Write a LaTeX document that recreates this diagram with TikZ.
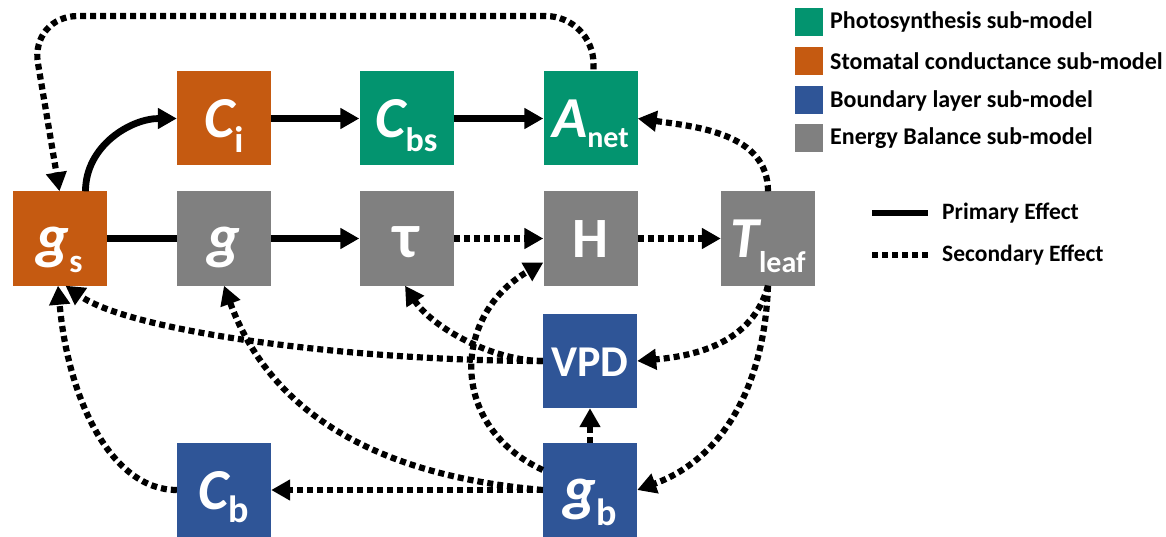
\documentclass[tikz,border=0pt]{standalone}
\usepackage{fontspec}
\setmainfont{Carlito}
\usetikzlibrary{arrows.meta}
\definecolor{psgreen}{RGB}{3,148,111}
\definecolor{scorange}{RGB}{197,90,17}
\definecolor{blblue}{RGB}{47,85,151}
\definecolor{ebgray}{RGB}{128,128,128}
\newcommand\mainv[2]{{\fontsize{#1pt}{#1pt}\selectfont\itshape #2}}
\newcommand\subv[3]{\raisebox{-#1pt}{\fontsize{#2pt}{#2pt}\selectfont #3}}
\begin{document}
\begin{tikzpicture}[x=1pt,y=1pt,
 box/.style={minimum width=94pt,minimum height=94pt,inner sep=0pt,text=white,font=\bfseries,text height=39pt,text depth=0pt},
 prim/.style={line width=6.8pt,-{Triangle[length=19pt,width=20pt]}},
 primline/.style={line width=6.8pt},
 sec/.style={line width=6.2pt,dash pattern=on 6pt off 4pt,-{Triangle[length=19pt,width=20pt]}},
 secline/.style={line width=6.2pt,dash pattern=on 6pt off 4pt},
 legsq/.style={minimum width=28pt,minimum height=28pt,inner sep=0pt},
 legtxt/.style={anchor=west,inner sep=0pt,font=\fontsize{24pt}{24pt}\selectfont\bfseries},
 efftxt/.style={anchor=west,inner sep=0pt,font=\fontsize{23.5pt}{23.5pt}\selectfont\bfseries},
]
\useasboundingbox (0,0) rectangle (1166,-537);

% boxes
\node[box,fill=scorange] (gs) at (59.5,-238.5) {\mainv{62}{g}\subv{14}{33}{s}};
\node[box,fill=scorange] (Ci) at (224,-118.5) {\mainv{58}{C}\subv{15}{37}{i}};
\node[box,fill=psgreen] (Cbs) at (406.5,-118.5) {\mainv{58}{C}\subv{14}{34}{bs}};
\node[box,fill=psgreen] (Anet) at (590.5,-118.5) {\mainv{58}{A}\subv{10}{30}{net}};
\node[box,fill=ebgray] (g) at (224,-238.5) {\mainv{62}{g}};
\node[box,fill=ebgray] (tau) at (406.5,-238.5) {\fontsize{64pt}{64pt}\selectfont τ};
\node[box,fill=ebgray] (H) at (590.5,-238.5) {\fontsize{57pt}{57pt}\selectfont H};
\node[box,fill=ebgray] (Tleaf) at (768,-238.5) {\mainv{58}{T}\subv{14}{30}{leaf}};
\node[box,fill=blblue,text height=30pt] (VPD) at (590,-361) {\fontsize{44pt}{44pt}\selectfont VPD};
\node[box,fill=blblue] (Cb) at (224,-490) {\mainv{58}{C}\subv{13}{38}{b}};
\node[box,fill=blblue] (gb) at (590,-490) {\mainv{62}{g}\subv{16}{38}{b}};

% primary effects
\draw[prim] ([xshift=26pt]gs.north) to[out=90,in=180] (Ci.west);
\draw[prim] (Ci) -- (Cbs);
\draw[prim] (Cbs) -- (Anet);
\draw[primline] (gs) -- (g);
\draw[prim] (g) -- (tau);

% secondary effects
\draw[sec,rounded corners=48pt] ([xshift=3pt,yshift=2pt]Anet.north) |- (30,-16) -- (gs.north) ;
\draw[sec] (tau) -- (H);
\draw[sec] (H) -- (Tleaf);
\draw[sec] (Tleaf.north) to[out=90,in=-8] (Anet.east);
\draw[sec] (Tleaf.south) to[out=-105,in=5] (VPD.east);
\draw[sec] (Tleaf.south) to[out=-92,in=20] (gb.east);
\draw[sec] (VPD.west) to[out=180,in=-35,out distance=193pt,in distance=80pt] ([xshift=6pt]gs.south);
\draw[sec] (VPD.west) to[out=180,in=-57,out distance=50pt,in distance=50pt] ([xshift=-1.5pt]tau.south);
\draw[sec] (Cb.west) to[out=180,in=-85,out distance=65pt,in distance=115pt] ([xshift=-1.5pt]gs.south);
\draw[sec] (gb.west) -- (Cb.east);
\draw[sec] (gb.west) to[out=175,in=-70,out distance=200pt,in distance=110pt] (g.south);
\draw[sec] ([yshift=20pt]gb.west) to[out=155,in=210,distance=105pt] ([yshift=-24pt]H.west);
\draw[sec] (gb.north) -- (VPD.south);

% legend
\node[legsq,fill=psgreen] (l1) at (809,-22) {};
\node[legsq,fill=scorange] (l2) at (809,-61.5) {};
\node[legsq,fill=blblue] (l3) at (809,-100.5) {};
\node[legsq,fill=ebgray] (l4) at (809,-138) {};
\node[legtxt] (t1) at (830,-22) {Photosynthesis sub-model};
\node[legtxt] (t2) at (830,-61.5) {Stomatal conductance sub-model};
\node[legtxt] (t3) at (830,-100.5) {Boundary layer sub-model};
\node[legtxt] (t4) at (830,-138) {Energy Balance sub-model};

\coordinate (p1) at (872,-213);
\coordinate (p2) at (928,-213);
\coordinate (s1) at (872,-255);
\coordinate (s2) at (928,-255);
\draw[primline] (p1) -- (p2);
\draw[secline] (s1) -- (s2);
\node[efftxt] (pe) at (942,-213) {Primary Effect};
\node[efftxt] (se) at (942,-255) {Secondary Effect};
\end{tikzpicture}
\end{document}
